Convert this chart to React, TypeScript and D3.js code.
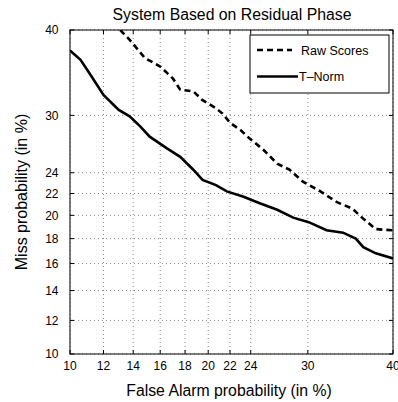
import React from "react";
import * as d3 from "d3";

const xTicks = [10, 12, 14, 16, 18, 20, 22, 24, 30, 40];
const yTicks = [10, 12, 14, 16, 18, 20, 22, 24, 30, 40];

const tnormFA = [10, 10.6, 11.2, 12, 13, 13.75, 14.5, 15.2, 16.5, 17.6, 18.7, 19.5, 20.7, 21.7, 23.3, 24.9, 26.7, 28.4, 30.1, 32.1, 34, 35.5, 36.4, 37.9, 40];
const tnormMiss = [37.5, 36.4, 34.6, 32.3, 30.6, 29.9, 28.8, 27.7, 26.5, 25.6, 24.3, 23.3, 22.8, 22.2, 21.7, 21.1, 20.5, 19.8, 19.4, 18.7, 18.5, 18.0, 17.3, 16.8, 16.4];

const rawFA = [13.1, 13.75, 14.85, 16, 17, 17.6, 18.7, 19.5, 20.7, 21.3, 22, 23, 23.9, 25.3, 26.7, 28, 29.5, 31.2, 33.3, 35.1, 36.4, 37.9, 40];
const rawMiss = [40, 38.8, 36.6, 35.6, 34.2, 32.9, 32.7, 31.7, 30.8, 30.2, 29.2, 28.4, 27.5, 26.3, 24.9, 24.3, 23.1, 22.3, 21.2, 20.6, 19.7, 18.8, 18.7];

// inverse normal CDF (Acklam)
function probit(p: number): number {
  const a = [-3.969683028665376e1, 2.209460984245205e2, -2.759285104469687e2, 1.38357751867269e2, -3.066479806614716e1, 2.506628277459239];
  const b = [-5.447609879822406e1, 1.615858368580409e2, -1.556989798598866e2, 6.680131188771972e1, -1.328068155288572e1];
  const c = [-7.784894002430293e-3, -3.223964580411365e-1, -2.400758277161838, -2.549732539343734, 4.374664141464968, 2.938163982698783];
  const d = [7.784695709041462e-3, 3.224671290700398e-1, 2.445134137142996, 3.754408661907416];
  const pl = 0.02425;
  let q: number, r: number;
  if (p < pl) {
    q = Math.sqrt(-2 * Math.log(p));
    return (((((c[0] * q + c[1]) * q + c[2]) * q + c[3]) * q + c[4]) * q + c[5]) / ((((d[0] * q + d[1]) * q + d[2]) * q + d[3]) * q + 1);
  } else if (p <= 1 - pl) {
    q = p - 0.5;
    r = q * q;
    return ((((((a[0] * r + a[1]) * r + a[2]) * r + a[3]) * r + a[4]) * r + a[5]) * q) / (((((b[0] * r + b[1]) * r + b[2]) * r + b[3]) * r + b[4]) * r + 1);
  } else {
    q = Math.sqrt(-2 * Math.log(1 - p));
    return -(((((c[0] * q + c[1]) * q + c[2]) * q + c[3]) * q + c[4]) * q + c[5]) / ((((d[0] * q + d[1]) * q + d[2]) * q + d[3]) * q + 1);
  }
}

const L = 70, R = 393, T = 30, B = 354;
const FONT = "'Liberation Sans', Arial, Helvetica, sans-serif";

export default function App() {
  const xs = d3.scaleLinear().domain([probit(0.1), probit(0.4)]).range([L, R]);
  const ys = d3.scaleLinear().domain([probit(0.1), probit(0.4)]).range([B, T]);
  const X = (v: number) => xs(probit(v / 100));
  const Y = (v: number) => ys(probit(v / 100));

  const line = d3.line<[number, number]>().x((d) => X(d[0])).y((d) => Y(d[1]));
  const tnorm = line(tnormFA.map((v, i) => [v, tnormMiss[i]] as [number, number])) || "";
  const raw = line(rawFA.map((v, i) => [v, rawMiss[i]] as [number, number])) || "";

  return (
    <svg width={398} height={402} style={{ position: "absolute", left: 0, top: 0, background: "#fff" }} fontFamily={FONT}>
      <rect x={0} y={0} width={398} height={402} fill="#fff" />
      <defs>
        <clipPath id="plot">
          <rect x={L} y={T} width={R - L} height={B - T} />
        </clipPath>
      </defs>
      {/* grid */}
      {xTicks.map((t) => (
        <line key={"gx" + t} x1={X(t)} x2={X(t)} y1={T} y2={B} stroke="#888" strokeWidth={1} strokeDasharray="1,3" />
      ))}
      {yTicks.map((t) => (
        <line key={"gy" + t} x1={L} x2={R} y1={Y(t)} y2={Y(t)} stroke="#888" strokeWidth={1} strokeDasharray="1,3" />
      ))}
      {/* ticks */}
      {xTicks.map((t) => (
        <g key={"tx" + t}>
          <line x1={X(t)} x2={X(t)} y1={B} y2={B - 4} stroke="#000" />
          <line x1={X(t)} x2={X(t)} y1={T} y2={T + 4} stroke="#000" />
        </g>
      ))}
      {yTicks.map((t) => (
        <g key={"ty" + t}>
          <line x1={L} x2={L + 4} y1={Y(t)} y2={Y(t)} stroke="#000" />
          <line x1={R} x2={R - 4} y1={Y(t)} y2={Y(t)} stroke="#000" />
        </g>
      ))}
      {/* curves */}
      <g clipPath="url(#plot)">
        <path d={raw} fill="none" stroke="#000" strokeWidth={2.6} strokeDasharray="6,4" />
        <path d={tnorm} fill="none" stroke="#000" strokeWidth={2.6} />
      </g>
      {/* frame */}
      <rect x={L} y={T} width={R - L} height={B - T} fill="none" stroke="#000" strokeWidth={1} />
      {/* tick labels */}
      {xTicks.map((t) => (
        <text key={"lx" + t} x={X(t)} y={369.5} fontSize={12} textAnchor="middle" fill="#000">
          {t}
        </text>
      ))}
      {yTicks.map((t) => (
        <text key={"ly" + t} x={58.5} y={Y(t) + 4.3} fontSize={12} textAnchor="end" fill="#000">
          {t}
        </text>
      ))}
      {/* titles */}
      <text x={232} y={20} fontSize={15.8} textAnchor="middle" fill="#000">System Based on Residual Phase</text>
      <text x={229} y={396} fontSize={15.8} textAnchor="middle" fill="#000">False Alarm probability (in %)</text>
      <text transform={`translate(27,${(T + B) / 2}) rotate(-90)`} fontSize={16} textAnchor="middle" fill="#000">Miss probability (in %)</text>
      {/* legend */}
      <rect x={250} y={35} width={139} height={58} fill="#fff" stroke="#000" strokeWidth={1} />
      <line x1={257} x2={292} y1={50} y2={50} stroke="#000" strokeWidth={2.6} strokeDasharray="6,4" />
      <text x={301} y={54.5} fontSize={12.5} fill="#000">Raw Scores</text>
      <line x1={257} x2={298} y1={76.5} y2={76.5} stroke="#000" strokeWidth={2.6} />
      <text x={299} y={81} fontSize={12.5} fill="#000">T–Norm</text>
    </svg>
  );
}
